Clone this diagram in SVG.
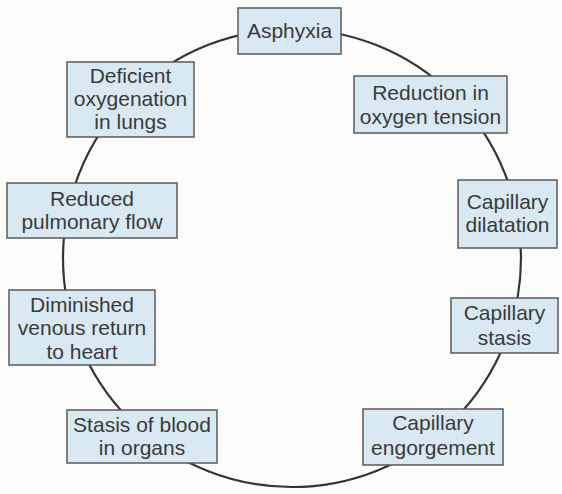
<svg xmlns="http://www.w3.org/2000/svg" width="562" height="494" viewBox="0 0 562 494">
<style>
.box{fill:#d8e9f3;stroke:#5a5a5a;stroke-width:1.5}
.t{font-family:"Liberation Sans",Arial,sans-serif;font-size:21px;fill:#3a3a3a;text-anchor:middle}
.c{fill:none;stroke:#333;stroke-width:2.2}
</style>
<rect width="562" height="494" fill="#fcfcfb"/>
<g id="connectors">
<circle class="c" cx="292" cy="258" r="229"/>
</g>
<g id="asphyxia"><rect class="box" x="238" y="8" width="103" height="46"/><text class="t" x="289.5" y="38">Asphyxia</text></g>
<g id="deficient"><rect class="box" x="67" y="62" width="127" height="75"/><text class="t" x="130.5" y="83">Deficient</text><text class="t" x="130.5" y="106">oxygenation</text><text class="t" x="130.5" y="129">in lungs</text></g>
<g id="reduction"><rect class="box" x="354" y="76" width="153" height="57"/><text class="t" x="430.5" y="100">Reduction in</text><text class="t" x="430.5" y="124">oxygen tension</text></g>
<g id="reduced"><rect class="box" x="7" y="183" width="170" height="55"/><text class="t" x="92" y="206">Reduced</text><text class="t" x="92" y="229">pulmonary flow</text></g>
<g id="dilatation"><rect class="box" x="458" y="180" width="99" height="68"/><text class="t" x="507.5" y="209">Capillary</text><text class="t" x="507.5" y="232">dilatation</text></g>
<g id="diminished"><rect class="box" x="9" y="290" width="146" height="75"/><text class="t" x="82" y="312">Diminished</text><text class="t" x="82" y="335">venous return</text><text class="t" x="82" y="359">to heart</text></g>
<g id="stasis"><rect class="box" x="451" y="298" width="107" height="55"/><text class="t" x="504.5" y="320">Capillary</text><text class="t" x="504.5" y="345">stasis</text></g>
<g id="stasis-blood"><rect class="box" x="67" y="410" width="150" height="53"/><text class="t" x="142" y="432">Stasis of blood</text><text class="t" x="142" y="455">in organs</text></g>
<g id="engorgement"><rect class="box" x="363" y="409" width="140" height="56"/><text class="t" x="433" y="430">Capillary</text><text class="t" x="433" y="455">engorgement</text></g>
</svg>
